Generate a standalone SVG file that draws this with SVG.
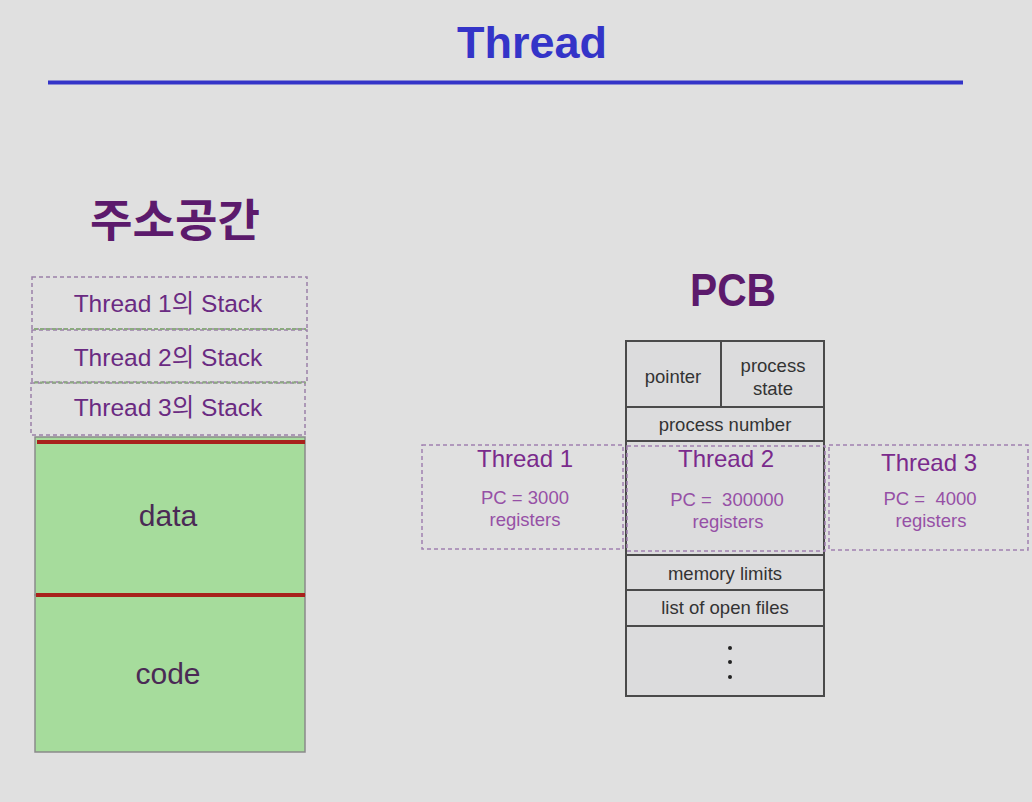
<svg xmlns="http://www.w3.org/2000/svg" width="1032" height="802" viewBox="0 0 1032 802">
<style>
.bg{fill:#e0e0e0}
.title{font-family:"Liberation Sans",Arial,sans-serif;font-weight:bold;font-size:45px;fill:#3434c8}
.head{font-family:"Liberation Sans","Noto Sans CJK KR",sans-serif;font-weight:bold;fill:#5c1a6c}
.stk{fill:none;stroke:#9a80a8;stroke-width:1.5;stroke-dasharray:4 3}
.sep{stroke:#8caa80;stroke-width:2;stroke-dasharray:4 2}
.stxt{font-family:"Liberation Sans","Noto Sans CJK KR",sans-serif;font-size:24.5px;fill:#6a2a82;text-anchor:middle}
.mem{fill:#a6dc9c;stroke:#8a8a8a;stroke-width:1.5}
.red{stroke:#a8221c;stroke-width:4}
.mtxt{font-family:"Liberation Sans",Arial,sans-serif;font-size:30px;fill:#4a2a55;text-anchor:middle}
.cell{fill:#dcdcdd;stroke:#4a4a4a;stroke-width:2}
.ptxt{font-family:"Liberation Sans",Arial,sans-serif;font-size:18.5px;fill:#333;text-anchor:middle}
.thr{fill:none;stroke:#a080b0;stroke-width:1.5;stroke-dasharray:4 3}
.ttl{font-family:"Liberation Sans",Arial,sans-serif;font-size:24px;fill:#7a2a8c;text-anchor:middle}
.tsub{font-family:"Liberation Sans",Arial,sans-serif;font-size:18.5px;fill:#9650a6;text-anchor:middle}
</style>
<rect class="bg" x="0" y="0" width="1032" height="802"/>
<g id="title">
<text class="title" x="532" y="58" text-anchor="middle">Thread</text>
<line x1="48" y1="82.5" x2="963" y2="82.5" stroke="#3434c8" stroke-width="4"/>
</g>
<g id="address-space">
<text class="head" x="175" y="237" font-size="45" text-anchor="middle" textLength="170" lengthAdjust="spacingAndGlyphs">주소공간</text>
<g id="stack1"><rect class="stk" x="32" y="277" width="275" height="52"/><text class="stxt" x="168" y="312">Thread 1의 Stack</text></g>
<g id="stack2"><rect class="stk" x="32" y="330" width="275" height="52"/><text class="stxt" x="168" y="366">Thread 2의 Stack</text></g>
<g id="stack3"><rect class="stk" x="31" y="383" width="274" height="52"/><text class="stxt" x="168" y="416">Thread 3의 Stack</text></g>
<line class="sep" x1="34" y1="329" x2="306" y2="329"/>
<line class="sep" x1="34" y1="382.5" x2="306" y2="382.5"/>
<g id="data"><rect class="mem" x="35" y="437" width="270" height="158"/><text class="mtxt" x="168" y="526">data</text></g>
<g id="code"><rect class="mem" x="35" y="595" width="270" height="157"/><text class="mtxt" x="168" y="684">code</text></g>
<line class="red" x1="37" y1="442" x2="305" y2="442"/>
<line class="red" x1="36" y1="595" x2="305" y2="595"/>
</g>
<g id="pcb">
<text class="head" x="733" y="306" font-size="46" text-anchor="middle" textLength="86" lengthAdjust="spacingAndGlyphs">PCB</text>
<g id="pointer"><rect class="cell" x="626" y="341" width="95" height="66"/><text class="ptxt" x="673" y="383">pointer</text></g>
<g id="process-state"><rect class="cell" x="721" y="341" width="103" height="66"/><text class="ptxt" x="773" y="372">process</text><text class="ptxt" x="773" y="395">state</text></g>
<g id="process-number"><rect class="cell" x="626" y="407" width="198" height="34"/><text class="ptxt" x="725" y="431">process number</text></g>
<rect class="cell" x="626" y="441" width="198" height="114"/>
<g id="memory-limits"><rect class="cell" x="626" y="555" width="198" height="35"/><text class="ptxt" x="725" y="580">memory limits</text></g>
<g id="open-files"><rect class="cell" x="626" y="590" width="198" height="36"/><text class="ptxt" x="725" y="614">list of open files</text></g>
<g id="more"><rect class="cell" x="626" y="626" width="198" height="70"/>
<circle cx="730" cy="648" r="2" fill="#222"/><circle cx="730" cy="662" r="2" fill="#222"/><circle cx="730" cy="677" r="2" fill="#222"/></g>
</g>
<g id="thread1"><rect class="thr" x="422" y="445" width="201" height="104"/>
<text class="ttl" x="525" y="467">Thread 1</text><text class="tsub" x="525" y="504">PC = 3000</text><text class="tsub" x="525" y="526">registers</text></g>
<g id="thread2"><rect class="thr" x="627" y="446" width="198" height="105"/>
<text class="ttl" x="726" y="467">Thread 2</text><text class="tsub" x="727" y="506" xml:space="preserve">PC =  300000</text><text class="tsub" x="728" y="528">registers</text></g>
<g id="thread3"><rect class="thr" x="829" y="445" width="199" height="105"/>
<text class="ttl" x="929" y="471">Thread 3</text><text class="tsub" x="930" y="505" xml:space="preserve">PC =  4000</text><text class="tsub" x="931" y="527">registers</text></g>
<g id="connectors"/>
</svg>
